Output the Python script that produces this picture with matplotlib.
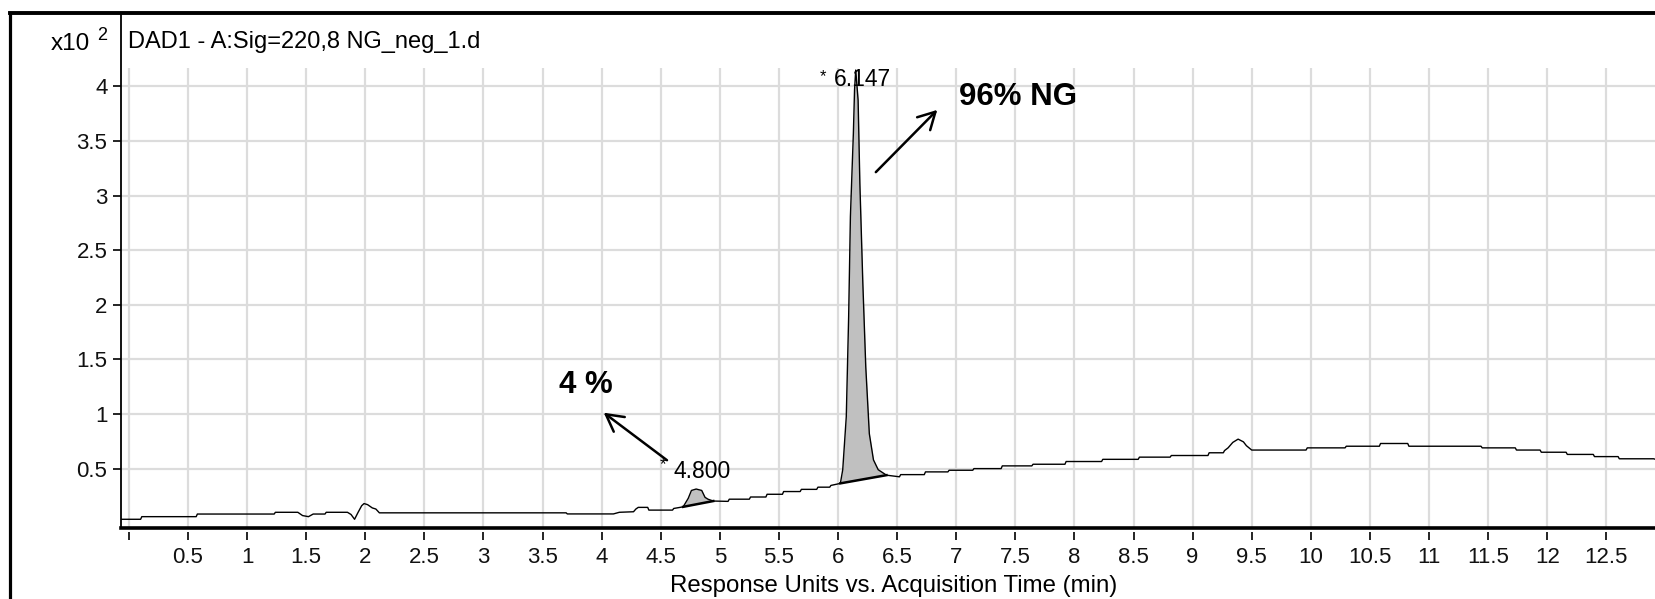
import numpy as np
import matplotlib
matplotlib.use("Agg")
import matplotlib.pyplot as plt
from matplotlib.lines import Line2D

# ---------------- data ----------------
time_min = [
    -0.06, 0.10, 0.11, 0.57, 0.58, 1.23, 1.24, 1.43, 1.47, 1.52, 1.56, 1.66, 1.67, 1.85,
    1.88, 1.91, 1.94, 1.97, 1.99, 2.02, 2.06, 2.09, 2.12, 3.70, 3.71, 4.10, 4.15, 4.27,
    4.29, 4.31, 4.39, 4.40, 4.60, 4.61, 4.69,
    4.733, 4.76, 4.80, 4.847, 4.875, 4.90, 4.945,
    5.07, 5.08, 5.25, 5.26, 5.39, 5.40, 5.53, 5.54, 5.68, 5.69, 5.82, 5.83, 5.93, 5.94,
    6.00, 6.02,
    6.04, 6.07, 6.09, 6.105, 6.13, 6.14, 6.15, 6.17, 6.185, 6.21, 6.235, 6.265, 6.30,
    6.34, 6.41,
    6.52, 6.53, 6.73, 6.74, 6.93, 6.94, 7.14, 7.15, 7.38, 7.39, 7.64, 7.65, 7.92, 7.93,
    8.23, 8.24, 8.54, 8.55, 8.81, 8.82, 9.13, 9.14, 9.26, 9.27, 9.30, 9.34, 9.385, 9.43,
    9.455, 9.50, 9.96, 9.97, 10.29, 10.30, 10.58, 10.59, 10.82, 10.83, 11.44, 11.45,
    11.73, 11.74, 11.94, 11.95, 12.16, 12.17, 12.39, 12.40, 12.60, 12.61, 12.90, 12.95,
]
response_x100 = [
    0.036, 0.036, 0.060, 0.060, 0.084, 0.084, 0.100, 0.100, 0.070, 0.060, 0.084, 0.084, 0.100, 0.100,
    0.080, 0.036, 0.100, 0.160, 0.180, 0.170, 0.140, 0.130, 0.095, 0.095, 0.085, 0.085, 0.100, 0.105,
    0.130, 0.145, 0.145, 0.120, 0.120, 0.135, 0.150,
    0.228, 0.300, 0.313, 0.300, 0.237, 0.220, 0.203,
    0.200, 0.220, 0.220, 0.240, 0.240, 0.265, 0.265, 0.290, 0.290, 0.310, 0.310, 0.330, 0.330, 0.346,
    0.360, 0.365,
    0.490, 0.975, 1.890, 2.810, 3.570, 3.970, 4.150, 3.875, 3.110, 2.200, 1.430, 0.820, 0.580,
    0.490, 0.440,
    0.425, 0.445, 0.445, 0.470, 0.470, 0.485, 0.485, 0.500, 0.500, 0.525, 0.525, 0.540, 0.540,
    0.565, 0.565, 0.585, 0.585, 0.605, 0.605, 0.620, 0.620, 0.645, 0.645, 0.665, 0.690, 0.740, 0.770,
    0.745, 0.710, 0.670, 0.670, 0.690, 0.690, 0.705, 0.705, 0.730, 0.730, 0.705, 0.705, 0.690,
    0.690, 0.670, 0.670, 0.650, 0.650, 0.630, 0.630, 0.610, 0.610, 0.590, 0.590, 0.575,
]

# integrated peaks: (start, end) retention windows and labels
peak_windows = [(4.69, 4.945), (6.02, 6.41)]
peak_labels = ["4.800", "6.147"]
peak_label_pos = [(4.606, 0.475), (5.965, 4.06)]
star_pos = [(4.52, 0.54), (5.873, 4.09)]

percent_texts = ["4 %", "96% NG"]
percent_pos = [(3.64, 1.27), (7.02, 3.90)]
arrow_tails = [(4.553, 0.577), (6.32, 3.215)]
arrow_heads = [(4.018, 1.012), (6.84, 3.785)]

x_ticks = [0, 0.5, 1, 1.5, 2, 2.5, 3, 3.5, 4, 4.5, 5, 5.5, 6, 6.5, 7, 7.5, 8, 8.5, 9,
           9.5, 10, 10.5, 11, 11.5, 12, 12.5]
x_tick_labels = ["", "0.5", "1", "1.5", "2", "2.5", "3", "3.5", "4", "4.5", "5", "5.5",
                 "6", "6.5", "7", "7.5", "8", "8.5", "9", "9.5", "10", "10.5", "11",
                 "11.5", "12", "12.5"]
y_ticks = [0.5, 1, 1.5, 2, 2.5, 3, 3.5, 4]
y_tick_labels = ["0.5", "1", "1.5", "2", "2.5", "3", "3.5", "4"]

title = "DAD1 - A:Sig=220,8 NG_neg_1.d"
xlabel = "Response Units vs. Acquisition Time (min)"

# ---------------- figure ----------------
W, H = 1655, 599
plt.rcParams['font.family'] = ['Liberation Sans', 'DejaVu Sans']
fig = plt.figure(figsize=(W / 100, H / 100), dpi=100)
fig.patch.set_facecolor('white')

ax_left, ax_right, ax_top, ax_bot = 121.3, 1655, 12.7, 527.8
ax = fig.add_axes([ax_left / W, 1 - ax_bot / H, (ax_right - ax_left) / W, (ax_bot - ax_top) / H])
ax.set_xlim(-0.0635, 12.912)
ax.set_ylim(-0.042, 4.675)

t = np.array(time_min)
r = np.array(response_x100)

# grid
grid_c = '#dcdcdc'
for yv in y_ticks:
    ax.axhline(yv, color=grid_c, lw=1.6, zorder=0)
ax.vlines(x_ticks, 0, 0.8936, transform=ax.get_xaxis_transform(), color=grid_c, lw=1.6, zorder=0)

# peak shading with baselines
for (a, b) in peak_windows:
    m = (t >= a) & (t <= b)
    ts = t[m]
    rs = r[m]
    ra, rb = np.interp(a, t, r), np.interp(b, t, r)
    base = ra + (rb - ra) * (ts - a) / (b - a)
    ax.fill_between(ts, base, rs, color='#c0c0c0', zorder=1, lw=0)
    ax.plot([a, b], [ra, rb], color='black', lw=1.8, zorder=3)

ax.plot(t, r, color='black', lw=1.0, zorder=2)

# labels
lab_font = 16.5
for (x, y), s in zip(peak_label_pos, peak_labels):
    ax.text(x, y, s, fontsize=lab_font, ha='left', va='center', zorder=4)
for (x, y) in star_pos:
    ax.text(x, y, "*", fontsize=12, ha='center', va='center', zorder=4)
for (x, y), s in zip(percent_pos, percent_texts):
    ax.text(x, y, s, fontsize=22.5, fontweight='bold', ha='left', va='center', zorder=4)
for tail, head in zip(arrow_tails, arrow_heads):
    ax.annotate("", xy=head, xytext=tail,
                arrowprops=dict(arrowstyle='->,head_length=0.55,head_width=0.3',
                                lw=1.8, color='black', mutation_scale=22,
                                shrinkA=0, shrinkB=0))

# spines / ticks
for s in ['top', 'right']:
    ax.spines[s].set_visible(False)
ax.spines['left'].set_linewidth(1.3)
ax.spines['bottom'].set_position(('outward', 3))
ax.spines['bottom'].set_visible(False)
ax.plot([0, 1], [0, 0], transform=ax.transAxes, color='black', lw=2.6, clip_on=False, zorder=5)

ax.set_xticks(x_ticks)
ax.set_xticklabels(x_tick_labels)
ax.set_yticks(y_ticks)
ax.set_yticklabels(y_tick_labels)
ax.tick_params(axis='x', direction='out', length=6, width=1.2, pad=5, labelsize=16,
               labelcolor='#111111')
ax.tick_params(axis='y', direction='out', length=6, width=1.2, pad=4, labelsize=16,
               labelcolor='#111111')

fig.text(894 / W, 1 - 586 / H, xlabel, fontsize=17.3, ha='center', va='center')
fig.text(127.7 / W, 1 - 42 / H, title, fontsize=17, ha='left', va='center')
fig.text(89.7 / W, 1 - 44.5 / H, "x10", fontsize=17.5, ha='right', va='center')
fig.text(97 / W, 1 - 36 / H, "2", fontsize=13, ha='left', va='center')

# outer frame
fig.add_artist(Line2D([10 / W, 10 / W], [0, 1 - 12.7 / H], color='black', lw=2.3,
                      transform=fig.transFigure))
fig.add_artist(Line2D([10 / W, 1], [1 - 12.7 / H, 1 - 12.7 / H], color='black', lw=2.8,
                      transform=fig.transFigure))

fig.savefig("out.png", dpi=100, facecolor='white')
